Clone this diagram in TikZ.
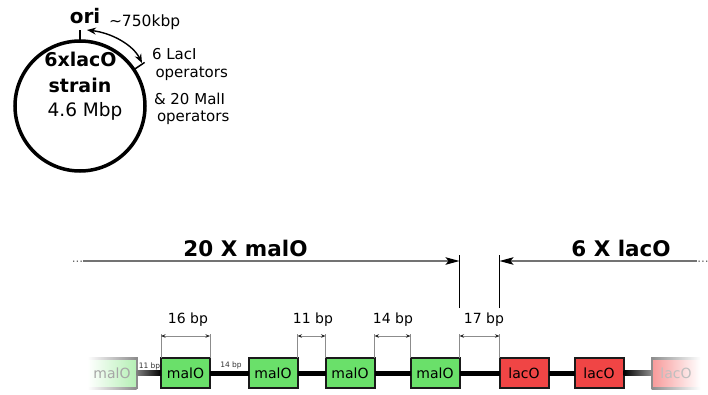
\documentclass[tikz,border=0pt]{standalone}
\usepackage{fontspec}
\setmainfont{DejaVu Sans}
\usetikzlibrary{arrows.meta,calc}
\definecolor{malfill}{HTML}{6AE06A}
\definecolor{lacfill}{HTML}{F04545}
\definecolor{edgecol}{HTML}{1A1A1A}
\begin{document}
\begin{tikzpicture}[x=1pt,y=-1pt,
  fsz/.style={font=\fontsize{#1}{#1}\selectfont},
  bfsz/.style={font=\bfseries\fontsize{#1}{#1}\selectfont},
  lbl/.style={inner sep=0pt, outer sep=0pt, anchor=base},
  lblw/.style={inner sep=0pt, outer sep=0pt, anchor=base west},
  opbox/.style={line width=2pt, minimum width=49pt, minimum height=30pt,
    inner sep=0pt, outer sep=0pt, fsz=14},
  mal/.style={opbox, draw=edgecol, fill=malfill},
  lac/.style={opbox, draw=edgecol, fill=lacfill},
  dna/.style={line width=5pt, black},
  guide/.style={draw=black!45, line width=0.7pt},
  dimarrow/.style={draw=black!45, line width=0.7pt,
    {Stealth[length=4.5pt,width=3.5pt,color=black!85]}-{Stealth[length=4.5pt,width=3.5pt,color=black!85]}},
  toparrow/.style={draw=black!55, line width=1.2pt,
    -{Stealth[length=14pt,width=7.5pt,inset=3pt,color=black]}},
  marker/.style={draw=black, line width=1pt},
]
\useasboundingbox (0,0) rectangle (708,394);

% ---------- chromosome ----------
\node[circle, draw, line width=3.5pt, minimum size=130pt, inner sep=0pt, outer sep=0pt] (chrom) at (80,106) {};
\draw[line width=1.5pt] (chrom.north) -- ++(0,-11) coordinate (oritop);
\draw[line width=1.5pt] (chrom.34) -- ++(-34:13) coordinate (opstick);

\node[lbl, bfsz=20] (ori) at (85,23.5) {ori};
\node[lblw, fsz=15.5] (dist) at (109,26) {\textasciitilde750kbp};
\coordinate (arrA) at (87,30);
\coordinate (arrB) at (142,63);
\draw[line width=1.4pt, {Stealth[length=9pt,width=7pt]}-{Stealth[length=9pt,width=7pt]}]
  (arrA) .. controls (112,33) and (133,45) .. (arrB);

\node[lblw, fsz=15] (ops1) at (152,59) {6 LacI};
\node[lblw, fsz=15] (ops2) at (155.5,77.5) {operators};
\node[lblw, fsz=15] (ops3) at (154,104) {\& 20 MalI};
\node[lblw, fsz=15] (ops4) at (157,121.5) {operators};

\node[lbl, bfsz=19] (name1) at (80.5,66) {6xlacO};
\node[lbl, bfsz=19] (name2) at (80,92.7) {strain};
\node[lbl, fsz=18.5] (gsize) at (85,116) {4.6 Mbp};

% ---------- operator array ----------
\node[opbox, draw=none, left color=white, right color=malfill!50!white, text=black!35] (box0) at (112,373) {malO};
\node[mal] (box1) at (185.5,373) {malO};
\node[mal] (box2) at (273,373) {malO};
\node[mal] (box3) at (350,373) {malO};
\node[mal] (box4) at (435,373) {malO};
\node[lac] (red1) at (524,373) {lacO};
\node[lac] (red2) at (599,373) {lacO};
\node[opbox, draw=none, left color=lacfill!55!white, right color=white, text=black!25] (red3) at (676,373) {lacO};

% faded outlines of the end boxes
\shade[left color=white, right color=edgecol!50!white] ($(box0.north west)+(0,-1)$) rectangle ($(box0.north east)+(0,1)$);
\shade[left color=white, right color=edgecol!50!white] ($(box0.south west)+(0,-1)$) rectangle ($(box0.south east)+(0,1)$);
\fill[edgecol!50!white] ($(box0.north east)+(-1,-1)$) rectangle ($(box0.south east)+(1,1)$);
\shade[left color=edgecol!50!white, right color=white] ($(red3.north west)+(0,-1)$) rectangle ($(red3.north east)+(0,1)$);
\shade[left color=edgecol!50!white, right color=white] ($(red3.south west)+(0,-1)$) rectangle ($(red3.south east)+(0,1)$);
\fill[edgecol!50!white] ($(red3.north west)+(-1,-1)$) rectangle ($(red3.south west)+(1,1)$);

% DNA backbone
\shade[left color=black!50, right color=black] ($(box0.east)+(0,-2.5)$) rectangle ($(box1.west)+(0,2.5)$);
\draw[dna] (box1.east) -- (box2.west);
\draw[dna] (box2.east) -- (box3.west);
\draw[dna] (box3.east) -- (box4.west);
\draw[dna] (box4.east) -- (red1.west);
\draw[dna] (red1.east) -- (red2.west);
\shade[left color=black, right color=black!45] ($(red2.east)+(0,-2.5)$) rectangle ($(red3.west)+(0,2.5)$);

\node[lbl, fsz=7.5, text=black!80] (s11) at (149.5,368) {11 bp};
\node[lbl, fsz=7.5, text=black!80] (s14) at (231,367) {14 bp};

% spacing dimensions
\draw[guide] (box1.north west) -- ++(0,-24) coordinate (g1a);
\draw[guide] (box1.north east) -- ++(0,-24) coordinate (g1b);
\draw[dimarrow] ($(g1a)+(0,2)$) -- ($(g1b)+(0,2)$);
\draw[guide] (box2.north east) -- ++(0,-24) coordinate (g2a);
\draw[guide] (box3.north west) -- ++(0,-24) coordinate (g2b);
\draw[dimarrow] ($(g2a)+(0,2)$) -- ($(g2b)+(0,2)$);
\draw[guide] (box3.north east) -- ++(0,-24) coordinate (g3a);
\draw[guide] (box4.north west) -- ++(0,-24) coordinate (g3b);
\draw[dimarrow] ($(g3a)+(0,2)$) -- ($(g3b)+(0,2)$);
\draw[guide] (box4.north east) -- ++(0,-24) coordinate (g4a);
\draw[guide] (red1.north west) -- ++(0,-24) coordinate (g4b);
\draw[dimarrow] ($(g4a)+(0,2)$) -- ($(g4b)+(0,2)$);

\node[lbl, fsz=14] (d16) at (188,323) {16 bp};
\node[lbl, fsz=14] (d11) at (313,323) {11 bp};
\node[lbl, fsz=14] (d14) at (393,323) {14 bp};
\node[lbl, fsz=14] (d17) at (484,323) {17 bp};

% region markers
\draw[marker] ($(box4.north east)+(0,-50)$) -- ++(0,-53);
\draw[marker] ($(red1.north west)+(0,-50)$) -- ++(0,-53);
\coordinate (ltip) at ($(box4.north east)+(0,-97)$);
\coordinate (rtip) at ($(red1.north west)+(0,-97)$);
\coordinate (lfrom) at (83,261);
\coordinate (rfrom) at (697,261);
\draw[toparrow] (lfrom) -- (ltip);
\draw[toparrow] (rfrom) -- (rtip);
\node[lbl, fsz=12, text=black!60] (ldots) at (77.5,262.5) {...};
\node[lbl, fsz=12, text=black!60] (rdots) at (703,262.5) {...};

\node[lbl, bfsz=21.5] (malhead) at (245.5,256.5) {20 X malO};
\node[lbl, bfsz=21.5] (lachead) at (621,256.5) {6 X lacO};
\end{tikzpicture}
\end{document}
